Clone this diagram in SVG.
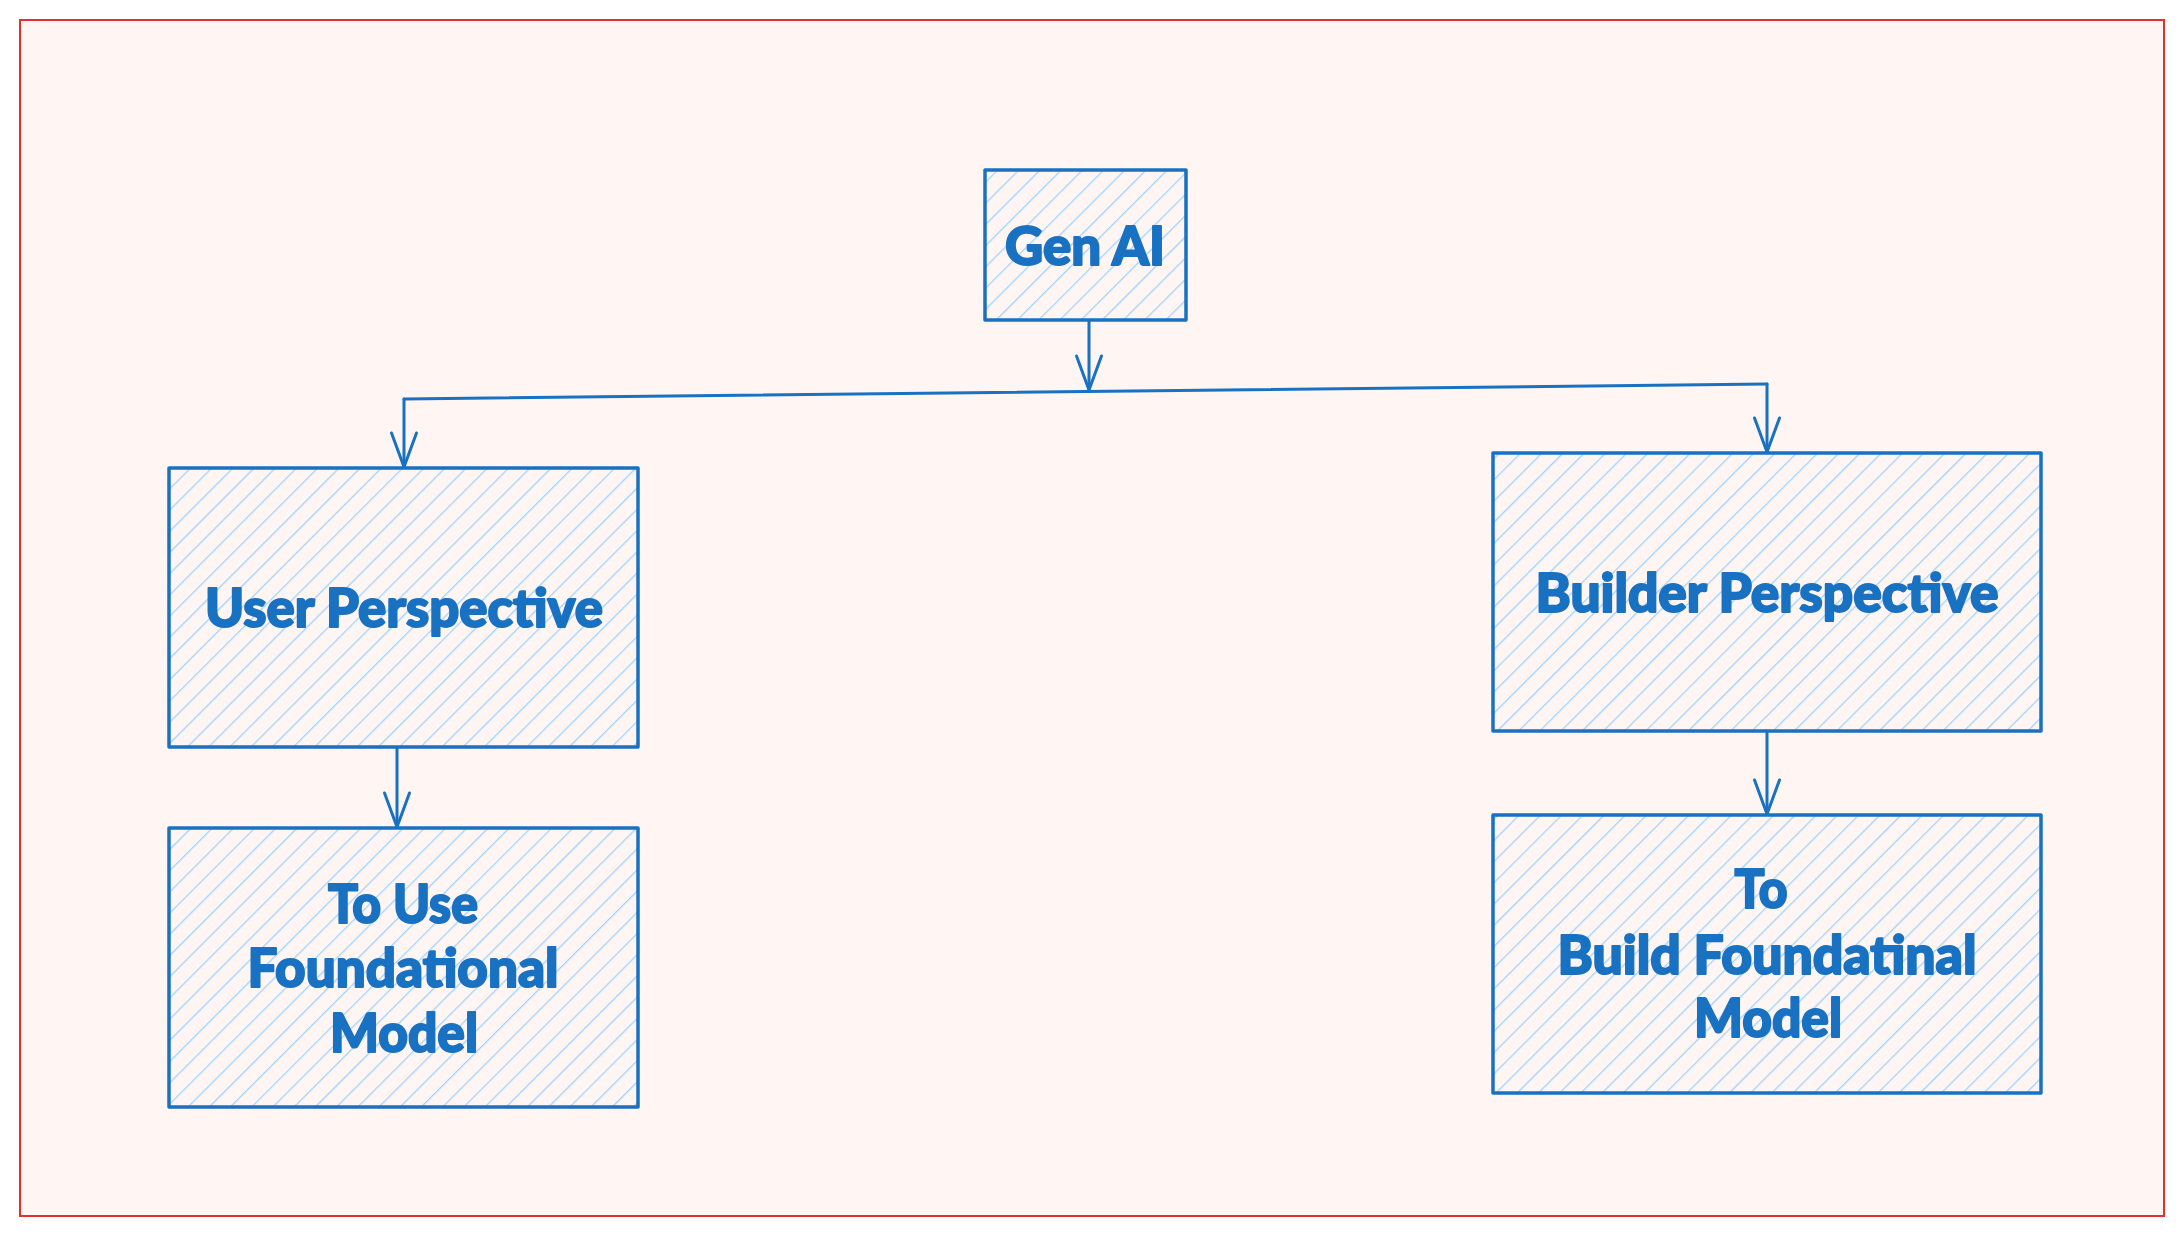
<svg xmlns="http://www.w3.org/2000/svg" width="2183" height="1236" viewBox="0 0 2183 1236">
  <style>
    .box { fill: url(#hatch); stroke: #1971c2; stroke-width: 3.5; stroke-linejoin: round; }
    .lbl { font-family: "Lato", "Open Sans", sans-serif; font-weight: 900; font-size: 54px; fill: #1971c2; stroke: #1971c2; stroke-width: 2; stroke-linejoin: round; text-anchor: middle; }
    .conn { fill: none; stroke: #1971c2; stroke-width: 3; stroke-linecap: round; stroke-linejoin: round; }
  </style>
  <defs>
    <pattern id="hatch" patternUnits="userSpaceOnUse" width="15" height="15" patternTransform="rotate(45)">
      <rect width="15" height="15" fill="#fff5f3"/>
      <line x1="0" y1="0" x2="0" y2="15" stroke="#9fd4ff" stroke-width="2.6"/>
    </pattern>
    <marker id="arrow" markerUnits="userSpaceOnUse" markerWidth="40" markerHeight="32" viewBox="-36 -16 40 32" refX="0" refY="0" orient="auto">
      <path d="M -34 -12.5 L 0 0 L -34 12.5" fill="none" stroke="#1971c2" stroke-width="3" stroke-linecap="round" stroke-linejoin="round"/>
    </marker>
  </defs>
  <rect x="0" y="0" width="2183" height="1236" fill="#ffffff"/>
  <rect x="20" y="20" width="2144" height="1196" fill="#fff5f3" stroke="#e03131" stroke-width="2"/>

  <g id="connectors">
    <path class="conn" d="M1089 321 V390" marker-end="url(#arrow)"/>
    <path class="conn" d="M404 399 L1767 384"/>
    <path class="conn" d="M404 399 V467" marker-end="url(#arrow)"/>
    <path class="conn" d="M1767 384 V452" marker-end="url(#arrow)"/>
    <path class="conn" d="M397 747 V827" marker-end="url(#arrow)"/>
    <path class="conn" d="M1767 731 V814" marker-end="url(#arrow)"/>
  </g>

  <g id="node-genai">
    <rect class="box" x="985" y="170" width="201" height="150"/>
    <text class="lbl" x="1085" y="265" textLength="160" lengthAdjust="spacingAndGlyphs">Gen AI</text>
  </g>
  <g id="node-user">
    <rect class="box" x="169" y="468" width="469" height="279"/>
    <text class="lbl" x="404" y="627" textLength="398" lengthAdjust="spacingAndGlyphs">User Perspective</text>
  </g>
  <g id="node-builder">
    <rect class="box" x="1493" y="453" width="548" height="278"/>
    <text class="lbl" x="1767" y="612" textLength="463" lengthAdjust="spacingAndGlyphs">Builder Perspective</text>
  </g>
  <g id="node-touse">
    <rect class="box" x="169" y="828" width="469" height="279"/>
    <text class="lbl" x="403" y="923" textLength="150" lengthAdjust="spacingAndGlyphs">To Use</text>
    <text class="lbl" x="403" y="987" textLength="311" lengthAdjust="spacingAndGlyphs">Foundational</text>
    <text class="lbl" x="404" y="1052" textLength="148" lengthAdjust="spacingAndGlyphs">Model</text>
  </g>
  <g id="node-tobuild">
    <rect class="box" x="1493" y="815" width="548" height="278"/>
    <text class="lbl" x="1761" y="908" textLength="53" lengthAdjust="spacingAndGlyphs">To</text>
    <text class="lbl" x="1767" y="974" textLength="419" lengthAdjust="spacingAndGlyphs">Build Foundatinal</text>
    <text class="lbl" x="1768" y="1037" textLength="148" lengthAdjust="spacingAndGlyphs">Model</text>
  </g>
</svg>
